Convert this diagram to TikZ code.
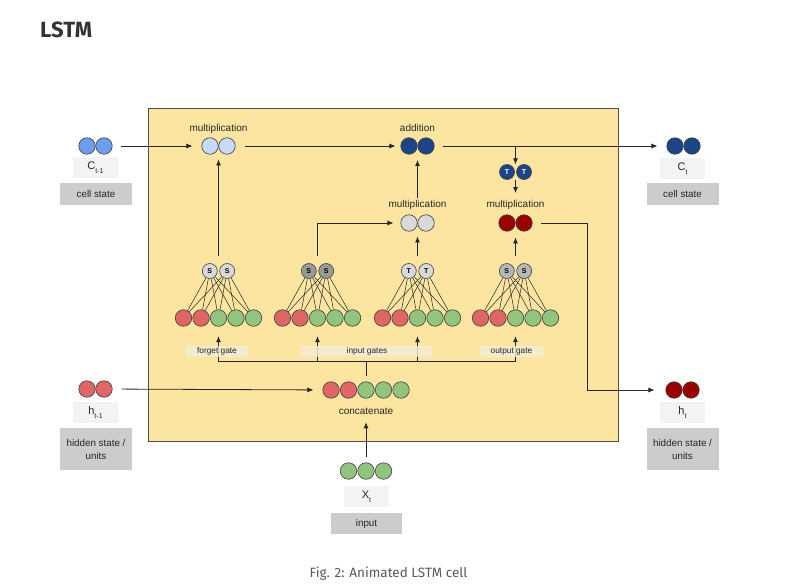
\documentclass[tikz,border=0pt]{standalone}
\usepackage{fontspec}
\setmainfont{Liberation Sans}
\newfontfamily\headfont{Fira Sans}
\usetikzlibrary{arrows.meta}

\definecolor{cellfill}{HTML}{FBE5A1}
\definecolor{cprevblue}{HTML}{6D9EEB}
\definecolor{paleblue}{HTML}{C9DAF8}
\definecolor{navy}{HTML}{1C4587}
\definecolor{darkred}{HTML}{990000}
\definecolor{mulgray}{HTML}{D9D9D9}
\definecolor{sdark}{HTML}{999999}
\definecolor{smid}{HTML}{B7B7B7}
\definecolor{hred}{HTML}{E06666}
\definecolor{xgreen}{HTML}{93C47D}
\definecolor{tagfill}{HTML}{F3F3F3}
\definecolor{namefill}{HTML}{CCCCCC}
\definecolor{gatefill}{HTML}{F3EDD8}

\newcommand\lowsub[1]{\raisebox{-4pt}{\fontsize{7}{7}\selectfont #1}}

\tikzset{
	dot/.style={circle, draw=black!75, line width=.6pt, minimum size=16.5pt, inner sep=0pt},
	gdot/.style={dot, minimum size=15pt, font=\fontsize{7}{7}\selectfont\bfseries},
	pair/.style={minimum width=34pt, minimum height=16.5pt, inner sep=0pt},
	fan/.style={draw=black!85, line width=.5pt},
	arr/.style={draw=black!85, line width=.8pt, -{Latex[length=6pt,width=5pt]}},
	lab/.style={font=\fontsize{10}{12}\selectfont, text=black!85, inner sep=2pt},
	tagbox/.style={fill=tagfill, minimum width=45pt, minimum height=21pt, inner sep=0pt, font=\fontsize{11}{12}\selectfont, text=black!85},
	namebox/.style={fill=namefill, minimum width=72pt, inner sep=0pt, align=center, font=\fontsize{9.8}{13}\selectfont, text=black!85},
	gatebox/.style={fill=gatefill, fill opacity=.8, text opacity=1, minimum height=11pt, inner sep=0pt, font=\fontsize{8.3}{9}\selectfont, text=black!85}
}

\begin{document}
\begin{tikzpicture}[x=1pt, y=-1pt]
	\useasboundingbox (0,0) rectangle (811,588);
	\node[font=\headfont\bfseries\fontsize{22}{24}\selectfont, text=black!80, anchor=west, inner sep=0pt] (title) at (40,29.5) {LSTM};
	\draw[fill=cellfill, draw=black!70, line width=1pt] (148,109) rectangle (618,441);

	% two-dot vectors
	\foreach \p/\px/\py/\pf in {cprev/95.5/146/cprevblue, mulf/218.5/146/paleblue, add/417.5/146/navy, cnext/683.5/146/navy, muli/417.5/223/mulgray, mulo/515.5/223/darkred, hprev/95.5/389/hred, hnext/682.5/390/darkred}{
		\node[pair] (\p) at (\px,\py) {};
		\node[dot, fill=\pf] (\p1) at (\px-8.5,\py) {};
		\node[dot, fill=\pf] (\p2) at (\px+8.5,\py) {};
	}
	\node[pair, minimum height=15pt] (tnext) at (515.5,172) {};
	\node[gdot, fill=navy, text=white] (tnext1) at (507,172) {T};
	\node[gdot, fill=navy, text=white] (tnext2) at (524,172) {T};

	\node[lab, anchor=base] (mulflab) at (218.5,132) {multiplication};
	\node[lab, anchor=base] (addlab) at (417.5,132) {addition};
	\node[lab, anchor=base] (mulilab) at (417.5,207.5) {multiplication};
	\node[lab, anchor=base] (mulolab) at (515.5,207.5) {multiplication};

	% gates
	\foreach \g/\gx/\gf/\gl in {f/218.5/mulgray/S, i/317.5/sdark/S, c/417.5/mulgray/T, o/515.5/smid/S}{
		\node[pair, minimum width=33pt, minimum height=15pt] (\g top) at (\gx,271) {};
		\node[gdot, fill=\gf] (\g top1) at (\gx-8.7,271) {\gl};
		\node[gdot, fill=\gf] (\g top2) at (\gx+8.7,271) {\gl};
		\node[pair, minimum width=87pt, minimum height=16pt] (\g in) at (\gx,318) {};
		\foreach \k/\kf in {1/hred, 2/hred, 3/xgreen, 4/xgreen, 5/xgreen}
			\node[dot, minimum size=16.5pt, fill=\kf] (\g in\k) at (\gx-52.5+17.5*\k,318) {};
		\foreach \t in {1,2}
			\foreach \k in {1,...,5}
				\draw[fan] (\g top\t) -- (\g in\k);
	}

	% concatenate and input
	\node[pair, minimum width=87pt] (cat) at (366,390) {};
	\foreach \k/\kf in {1/hred, 2/hred, 3/xgreen, 4/xgreen, 5/xgreen}
		\node[dot, fill=\kf] (cat\k) at (366-52.5+17.5*\k,390) {};
	\node[lab, anchor=base] (catlab) at (366,414) {concatenate};
	\node[pair, minimum width=52pt] (xin) at (366,471) {};
	\foreach \k in {1,2,3}
		\node[dot, fill=xgreen] (xin\k) at (366-35+17.5*\k,471) {};

	% tags and names
	\node[tagbox] (cprevtag) at (95.5,168) {C\lowsub{t-1}};
	\node[namebox, minimum height=22pt] (cprevname) at (96,194) {cell state};
	\node[tagbox] (hprevtag) at (95.5,412.5) {h\lowsub{t-1}};
	\node[namebox, minimum height=42pt] (hprevname) at (96,449) {hidden state /\\units};
	\node[tagbox] (cnexttag) at (682.5,168.5) {C\lowsub{t}};
	\node[namebox, minimum height=22pt] (cnextname) at (682.5,194) {cell state};
	\node[tagbox] (hnexttag) at (682.5,412.5) {h\lowsub{t}};
	\node[namebox, minimum height=42pt] (hnextname) at (682.5,449) {hidden state /\\units};
	\node[tagbox] (xtag) at (366.5,496.5) {X\lowsub{t}};
	\node[namebox, minimum width=71pt, minimum height=21pt] (xname) at (366.5,523.5) {input};

	% connectors
	\draw[arr, shorten <=8pt, shorten >=9pt] (cprev2) -- (mulf1);
	\draw[arr, shorten <=9pt, shorten >=5pt] (mulf2) -- (add1);
	\draw[arr, shorten <=8pt, shorten >=9pt] (add2) -- (cnext1);
	\draw[arr] (tnext.north |- add2) -- (tnext.north);
	\draw[arr, shorten >=5pt] (tnext.south) -- (mulolab.north);
	\draw[arr, shorten >=5.5pt] (mulilab.north) -- (add.south);
	\draw[arr, shorten <=7pt, shorten >=5pt] (ftop.north) -- (mulf.south);
	\draw[arr, shorten <=7pt, shorten >=7pt] (itop.north) |- (muli1);
	\draw[arr, shorten <=7pt, shorten >=5pt] (ctop.north) -- (muli.south);
	\draw[arr, shorten <=7pt, shorten >=6pt] (otop.north) -- (mulo.south);
	\draw[arr, shorten <=8pt, shorten >=11pt] (mulo2.east) -- ++(55,0) |- (hnext1);
	\draw[arr, shorten <=9pt, shorten >=9pt] (hprev2) -- (cat1);
	\draw[arr, shorten <=5.5pt, shorten >=6pt] (xin.north) -- (catlab.south);
	\foreach \g in {f,i,c,o}
		\draw[arr, shorten <=6pt, shorten >=10pt] (cat.north) -- ++(0,-20) -| (\g in.south);

	% gate names
	\node[gatebox, minimum width=62pt] (flab) at (217,351.5) {forget gate};
	\node[gatebox, minimum width=132pt] (ilab) at (367,351.5) {input gates};
	\node[gatebox, minimum width=63pt] (olab) at (511.5,351.5) {output gate};

	\node[font=\headfont\fontsize{13.5}{15}\selectfont, text=black!65, anchor=base] (caption) at (388.5,577) {Fig. 2: Animated LSTM cell};
\end{tikzpicture}
\end{document}
